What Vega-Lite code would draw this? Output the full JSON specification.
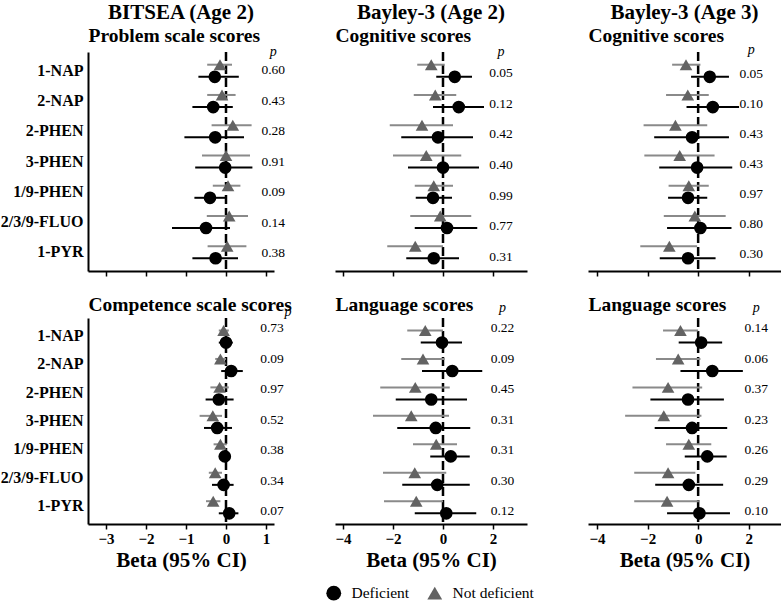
{
  "$schema": "https://vega.github.io/schema/vega-lite/v6.json",
  "background": "white",
  "padding": {"left": 0, "top": 2, "right": 0, "bottom": 0},
  "datasets": {
    "est": [
      {"panel": "P1", "exposure": "1-NAP", "group": "Deficient", "beta": -0.28, "lo": -0.69, "hi": 0.32},
      {"panel": "P1", "exposure": "1-NAP", "group": "Not deficient", "beta": -0.15, "lo": -0.47, "hi": 0.15},
      {"panel": "P1", "exposure": "2-NAP", "group": "Deficient", "beta": -0.32, "lo": -0.84, "hi": 0.17},
      {"panel": "P1", "exposure": "2-NAP", "group": "Not deficient", "beta": -0.1, "lo": -0.47, "hi": 0.24},
      {"panel": "P1", "exposure": "2-PHEN", "group": "Deficient", "beta": -0.27, "lo": -1.04, "hi": 0.45},
      {"panel": "P1", "exposure": "2-PHEN", "group": "Not deficient", "beta": 0.17, "lo": -0.36, "hi": 0.64},
      {"panel": "P1", "exposure": "3-PHEN", "group": "Deficient", "beta": -0.02, "lo": -0.77, "hi": 0.66},
      {"panel": "P1", "exposure": "3-PHEN", "group": "Not deficient", "beta": 0.0, "lo": -0.6, "hi": 0.6},
      {"panel": "P1", "exposure": "1/9-PHEN", "group": "Deficient", "beta": -0.4, "lo": -0.79, "hi": 0.0},
      {"panel": "P1", "exposure": "1/9-PHEN", "group": "Not deficient", "beta": 0.05, "lo": -0.33, "hi": 0.36},
      {"panel": "P1", "exposure": "2/3/9-FLUO", "group": "Deficient", "beta": -0.5, "lo": -1.35, "hi": 0.1},
      {"panel": "P1", "exposure": "2/3/9-FLUO", "group": "Not deficient", "beta": 0.08, "lo": -0.48, "hi": 0.55},
      {"panel": "P1", "exposure": "1-PYR", "group": "Deficient", "beta": -0.26, "lo": -0.84, "hi": 0.3},
      {"panel": "P1", "exposure": "1-PYR", "group": "Not deficient", "beta": 0.03, "lo": -0.46, "hi": 0.51},

      {"panel": "P2", "exposure": "1-NAP", "group": "Deficient", "beta": 0.47, "lo": -0.27, "hi": 1.16},
      {"panel": "P2", "exposure": "1-NAP", "group": "Not deficient", "beta": -0.47, "lo": -1.03, "hi": 0.07},
      {"panel": "P2", "exposure": "2-NAP", "group": "Deficient", "beta": 0.63, "lo": -0.4, "hi": 1.64},
      {"panel": "P2", "exposure": "2-NAP", "group": "Not deficient", "beta": -0.31, "lo": -1.17, "hi": 0.53},
      {"panel": "P2", "exposure": "2-PHEN", "group": "Deficient", "beta": -0.2, "lo": -1.67, "hi": 1.2},
      {"panel": "P2", "exposure": "2-PHEN", "group": "Not deficient", "beta": -0.84, "lo": -2.13, "hi": 0.4},
      {"panel": "P2", "exposure": "3-PHEN", "group": "Deficient", "beta": 0.0, "lo": -1.4, "hi": 1.44},
      {"panel": "P2", "exposure": "3-PHEN", "group": "Not deficient", "beta": -0.67, "lo": -2.0, "hi": 0.73},
      {"panel": "P2", "exposure": "1/9-PHEN", "group": "Deficient", "beta": -0.4, "lo": -1.09, "hi": 0.36},
      {"panel": "P2", "exposure": "1/9-PHEN", "group": "Not deficient", "beta": -0.37, "lo": -1.13, "hi": 0.4},
      {"panel": "P2", "exposure": "2/3/9-FLUO", "group": "Deficient", "beta": 0.16, "lo": -1.13, "hi": 1.37},
      {"panel": "P2", "exposure": "2/3/9-FLUO", "group": "Not deficient", "beta": -0.11, "lo": -1.31, "hi": 1.13},
      {"panel": "P2", "exposure": "1-PYR", "group": "Deficient", "beta": -0.37, "lo": -1.47, "hi": 0.64},
      {"panel": "P2", "exposure": "1-PYR", "group": "Not deficient", "beta": -1.11, "lo": -2.23, "hi": 0.0},

      {"panel": "P3", "exposure": "1-NAP", "group": "Deficient", "beta": 0.46, "lo": -0.28, "hi": 1.22},
      {"panel": "P3", "exposure": "1-NAP", "group": "Not deficient", "beta": -0.48, "lo": -1.03, "hi": 0.09},
      {"panel": "P3", "exposure": "2-NAP", "group": "Deficient", "beta": 0.58, "lo": -0.46, "hi": 1.62},
      {"panel": "P3", "exposure": "2-NAP", "group": "Not deficient", "beta": -0.41, "lo": -1.27, "hi": 0.42},
      {"panel": "P3", "exposure": "2-PHEN", "group": "Deficient", "beta": -0.24, "lo": -1.74, "hi": 1.22},
      {"panel": "P3", "exposure": "2-PHEN", "group": "Not deficient", "beta": -0.9, "lo": -2.16, "hi": 0.36},
      {"panel": "P3", "exposure": "3-PHEN", "group": "Deficient", "beta": -0.04, "lo": -1.54, "hi": 1.35},
      {"panel": "P3", "exposure": "3-PHEN", "group": "Not deficient", "beta": -0.73, "lo": -2.13, "hi": 0.65},
      {"panel": "P3", "exposure": "1/9-PHEN", "group": "Deficient", "beta": -0.4, "lo": -1.19, "hi": 0.36},
      {"panel": "P3", "exposure": "1/9-PHEN", "group": "Not deficient", "beta": -0.37, "lo": -1.17, "hi": 0.42},
      {"panel": "P3", "exposure": "2/3/9-FLUO", "group": "Deficient", "beta": 0.09, "lo": -1.23, "hi": 1.32},
      {"panel": "P3", "exposure": "2/3/9-FLUO", "group": "Not deficient", "beta": -0.13, "lo": -1.36, "hi": 1.09},
      {"panel": "P3", "exposure": "1-PYR", "group": "Deficient", "beta": -0.4, "lo": -1.52, "hi": 0.69},
      {"panel": "P3", "exposure": "1-PYR", "group": "Not deficient", "beta": -1.14, "lo": -2.29, "hi": -0.04},

      {"panel": "P4", "exposure": "1-NAP", "group": "Deficient", "beta": 0.0, "lo": -0.18, "hi": 0.17},
      {"panel": "P4", "exposure": "1-NAP", "group": "Not deficient", "beta": -0.06, "lo": -0.18, "hi": 0.07},
      {"panel": "P4", "exposure": "2-NAP", "group": "Deficient", "beta": 0.13, "lo": -0.12, "hi": 0.42},
      {"panel": "P4", "exposure": "2-NAP", "group": "Not deficient", "beta": -0.14, "lo": -0.27, "hi": 0.0},
      {"panel": "P4", "exposure": "2-PHEN", "group": "Deficient", "beta": -0.18, "lo": -0.51, "hi": 0.19},
      {"panel": "P4", "exposure": "2-PHEN", "group": "Not deficient", "beta": -0.16, "lo": -0.39, "hi": 0.07},
      {"panel": "P4", "exposure": "3-PHEN", "group": "Deficient", "beta": -0.22, "lo": -0.55, "hi": 0.15},
      {"panel": "P4", "exposure": "3-PHEN", "group": "Not deficient", "beta": -0.33, "lo": -0.66, "hi": -0.1},
      {"panel": "P4", "exposure": "1/9-PHEN", "group": "Deficient", "beta": -0.03, "lo": -0.18, "hi": 0.11},
      {"panel": "P4", "exposure": "1/9-PHEN", "group": "Not deficient", "beta": -0.14, "lo": -0.31, "hi": 0.02},
      {"panel": "P4", "exposure": "2/3/9-FLUO", "group": "Deficient", "beta": -0.06, "lo": -0.35, "hi": 0.19},
      {"panel": "P4", "exposure": "2/3/9-FLUO", "group": "Not deficient", "beta": -0.27, "lo": -0.43, "hi": -0.1},
      {"panel": "P4", "exposure": "1-PYR", "group": "Deficient", "beta": 0.08, "lo": -0.18, "hi": 0.31},
      {"panel": "P4", "exposure": "1-PYR", "group": "Not deficient", "beta": -0.32, "lo": -0.5, "hi": -0.14},

      {"panel": "P5", "exposure": "1-NAP", "group": "Deficient", "beta": -0.04, "lo": -0.89, "hi": 0.76},
      {"panel": "P5", "exposure": "1-NAP", "group": "Not deficient", "beta": -0.71, "lo": -1.43, "hi": 0.0},
      {"panel": "P5", "exposure": "2-NAP", "group": "Deficient", "beta": 0.37, "lo": -0.84, "hi": 1.57},
      {"panel": "P5", "exposure": "2-NAP", "group": "Not deficient", "beta": -0.8, "lo": -1.67, "hi": 0.07},
      {"panel": "P5", "exposure": "2-PHEN", "group": "Deficient", "beta": -0.47, "lo": -1.89, "hi": 0.96},
      {"panel": "P5", "exposure": "2-PHEN", "group": "Not deficient", "beta": -1.11, "lo": -2.51, "hi": 0.27},
      {"panel": "P5", "exposure": "3-PHEN", "group": "Deficient", "beta": -0.29, "lo": -1.83, "hi": 1.09},
      {"panel": "P5", "exposure": "3-PHEN", "group": "Not deficient", "beta": -1.27, "lo": -2.8, "hi": 0.24},
      {"panel": "P5", "exposure": "1/9-PHEN", "group": "Deficient", "beta": 0.31, "lo": -0.51, "hi": 1.07},
      {"panel": "P5", "exposure": "1/9-PHEN", "group": "Not deficient", "beta": -0.27, "lo": -1.2, "hi": 0.56},
      {"panel": "P5", "exposure": "2/3/9-FLUO", "group": "Deficient", "beta": -0.23, "lo": -1.63, "hi": 1.07},
      {"panel": "P5", "exposure": "2/3/9-FLUO", "group": "Not deficient", "beta": -1.13, "lo": -2.4, "hi": 0.13},
      {"panel": "P5", "exposure": "1-PYR", "group": "Deficient", "beta": 0.13, "lo": -1.13, "hi": 1.33},
      {"panel": "P5", "exposure": "1-PYR", "group": "Not deficient", "beta": -1.07, "lo": -2.36, "hi": 0.0},

      {"panel": "P6", "exposure": "1-NAP", "group": "Deficient", "beta": 0.12, "lo": -0.77, "hi": 0.95},
      {"panel": "P6", "exposure": "1-NAP", "group": "Not deficient", "beta": -0.7, "lo": -1.39, "hi": 0.0},
      {"panel": "P6", "exposure": "2-NAP", "group": "Deficient", "beta": 0.56, "lo": -0.7, "hi": 1.77},
      {"panel": "P6", "exposure": "2-NAP", "group": "Not deficient", "beta": -0.79, "lo": -1.67, "hi": 0.09},
      {"panel": "P6", "exposure": "2-PHEN", "group": "Deficient", "beta": -0.4, "lo": -1.89, "hi": 1.02},
      {"panel": "P6", "exposure": "2-PHEN", "group": "Not deficient", "beta": -1.19, "lo": -2.6, "hi": 0.16},
      {"panel": "P6", "exposure": "3-PHEN", "group": "Deficient", "beta": -0.24, "lo": -1.72, "hi": 1.15},
      {"panel": "P6", "exposure": "3-PHEN", "group": "Not deficient", "beta": -1.36, "lo": -2.89, "hi": 0.13},
      {"panel": "P6", "exposure": "1/9-PHEN", "group": "Deficient", "beta": 0.36, "lo": -0.53, "hi": 1.13},
      {"panel": "P6", "exposure": "1/9-PHEN", "group": "Not deficient", "beta": -0.37, "lo": -1.27, "hi": 0.52},
      {"panel": "P6", "exposure": "2/3/9-FLUO", "group": "Deficient", "beta": -0.37, "lo": -1.7, "hi": 0.99},
      {"panel": "P6", "exposure": "2/3/9-FLUO", "group": "Not deficient", "beta": -1.19, "lo": -2.53, "hi": -0.11},
      {"panel": "P6", "exposure": "1-PYR", "group": "Deficient", "beta": 0.05, "lo": -1.23, "hi": 1.26},
      {"panel": "P6", "exposure": "1-PYR", "group": "Not deficient", "beta": -1.23, "lo": -2.53, "hi": 0.03}
    ],
    "pv": [
      {"panel": "P1", "exposure": "1-NAP", "p": "0.60"}, {"panel": "P1", "exposure": "2-NAP", "p": "0.43"}, {"panel": "P1", "exposure": "2-PHEN", "p": "0.28"}, {"panel": "P1", "exposure": "3-PHEN", "p": "0.91"}, {"panel": "P1", "exposure": "1/9-PHEN", "p": "0.09"}, {"panel": "P1", "exposure": "2/3/9-FLUO", "p": "0.14"}, {"panel": "P1", "exposure": "1-PYR", "p": "0.38"},
      {"panel": "P2", "exposure": "1-NAP", "p": "0.05"}, {"panel": "P2", "exposure": "2-NAP", "p": "0.12"}, {"panel": "P2", "exposure": "2-PHEN", "p": "0.42"}, {"panel": "P2", "exposure": "3-PHEN", "p": "0.40"}, {"panel": "P2", "exposure": "1/9-PHEN", "p": "0.99"}, {"panel": "P2", "exposure": "2/3/9-FLUO", "p": "0.77"}, {"panel": "P2", "exposure": "1-PYR", "p": "0.31"},
      {"panel": "P3", "exposure": "1-NAP", "p": "0.05"}, {"panel": "P3", "exposure": "2-NAP", "p": "0.10"}, {"panel": "P3", "exposure": "2-PHEN", "p": "0.43"}, {"panel": "P3", "exposure": "3-PHEN", "p": "0.43"}, {"panel": "P3", "exposure": "1/9-PHEN", "p": "0.97"}, {"panel": "P3", "exposure": "2/3/9-FLUO", "p": "0.80"}, {"panel": "P3", "exposure": "1-PYR", "p": "0.30"},
      {"panel": "P4", "exposure": "1-NAP", "p": "0.73"}, {"panel": "P4", "exposure": "2-NAP", "p": "0.09"}, {"panel": "P4", "exposure": "2-PHEN", "p": "0.97"}, {"panel": "P4", "exposure": "3-PHEN", "p": "0.52"}, {"panel": "P4", "exposure": "1/9-PHEN", "p": "0.38"}, {"panel": "P4", "exposure": "2/3/9-FLUO", "p": "0.34"}, {"panel": "P4", "exposure": "1-PYR", "p": "0.07"},
      {"panel": "P5", "exposure": "1-NAP", "p": "0.22"}, {"panel": "P5", "exposure": "2-NAP", "p": "0.09"}, {"panel": "P5", "exposure": "2-PHEN", "p": "0.45"}, {"panel": "P5", "exposure": "3-PHEN", "p": "0.31"}, {"panel": "P5", "exposure": "1/9-PHEN", "p": "0.31"}, {"panel": "P5", "exposure": "2/3/9-FLUO", "p": "0.30"}, {"panel": "P5", "exposure": "1-PYR", "p": "0.12"},
      {"panel": "P6", "exposure": "1-NAP", "p": "0.14"}, {"panel": "P6", "exposure": "2-NAP", "p": "0.06"}, {"panel": "P6", "exposure": "2-PHEN", "p": "0.37"}, {"panel": "P6", "exposure": "3-PHEN", "p": "0.23"}, {"panel": "P6", "exposure": "1/9-PHEN", "p": "0.26"}, {"panel": "P6", "exposure": "2/3/9-FLUO", "p": "0.29"}, {"panel": "P6", "exposure": "1-PYR", "p": "0.10"}
    ]
  },
  "config": {
    "font": "Liberation Serif",
    "view": {"stroke": null},
    "title": {"font": "Liberation Serif", "fontSize": 21, "fontWeight": "bold", "color": "black", "anchor": "middle", "frame": "group", "offset": 2},
    "axis": {"grid": false, "domainColor": "black", "tickColor": "black", "labelColor": "black", "titleColor": "black", "labelFont": "Liberation Serif", "titleFont": "Liberation Serif", "labelFontWeight": "bold", "titleFontWeight": "bold"},
    "axisX": {"domainWidth": 2, "tickWidth": 1.5, "tickSize": 5, "labelFontSize": 15, "labelPadding": 2, "titleFontSize": 21, "titlePadding": 3, "labelFlush": false},
    "axisY": {"domainWidth": 2, "ticks": false, "labelFontSize": 16, "labelPadding": 5, "titleFontSize": 19.5, "titleAngle": 0, "titleX": 0, "titleY": -11, "titleAlign": "left", "titleBaseline": "alphabetic"},
    "legend": {"labelFont": "Liberation Serif", "labelFontSize": 15.5, "labelColor": "black", "symbolSize": 220, "columnPadding": 17, "labelOffset": 10, "symbolStrokeWidth": 0}
  },
  "spacing": 17,
  "vconcat": [
    {
      "hconcat": [
        {
          "width": 186, "height": 219,
          "title": "BITSEA (Age 2)",
          "data": {"name": "est"},
          "layer": [
            {"transform": [{"filter": "datum.panel == 'P1' && datum.exposure == '1-NAP' && datum.group == 'Deficient'"}],
             "mark": {"type": "rule", "strokeDash": [9, 4], "strokeWidth": 2.5, "color": "black"},
             "encoding": {"x": {"datum": 0, "type": "quantitative", "title": null, "scale": {"domain": [-3.45, 1.2], "nice": false, "zero": false}, "axis": {"values": [-3, -2, -1, 0, 1], "labels": false}}}},
            {"transform": [{"filter": "datum.panel == 'P1'"}],
             "encoding": {
               "y": {"field": "exposure", "type": "nominal", "scale": {"type": "band", "domain": ["1-NAP", "2-NAP", "2-PHEN", "3-PHEN", "1/9-PHEN", "2/3/9-FLUO", "1-PYR"], "paddingOuter": 0.12, "paddingInner": 0}, "axis": {"title": "Problem scale scores"}},
               "yOffset": {"field": "group", "type": "nominal", "scale": {"domain": ["Not deficient", "Deficient"], "paddingOuter": 0.25, "paddingInner": 0}}},
             "layer": [
               {"mark": {"type": "rule", "strokeWidth": 2}, "encoding": {"x": {"field": "lo", "type": "quantitative", "title": null}, "x2": {"field": "hi"}, "stroke": {"field": "group", "type": "nominal", "scale": {"domain": ["Deficient", "Not deficient"], "range": ["#000000", "#8a8a8a"]}}}},
               {"mark": {"type": "point", "filled": true, "size": 160, "opacity": 1}, "encoding": {"x": {"field": "beta", "type": "quantitative", "title": null}, "color": {"field": "group", "type": "nominal", "scale": {"domain": ["Deficient", "Not deficient"], "range": ["#000000", "#636363"]}, "legend": {"title": null, "orient": "none", "direction": "horizontal", "legendX": 238, "legendY": 533}}, "shape": {"field": "group", "type": "nominal", "scale": {"domain": ["Deficient", "Not deficient"], "range": ["circle", "triangle-up"]}, "legend": {"title": null, "orient": "none", "direction": "horizontal", "legendX": 238, "legendY": 533}}}}
             ]},
            {"data": {"name": "pv"}, "transform": [{"filter": "datum.panel == 'P1'"}],
             "encoding": {"x": {"datum": 1.18, "type": "quantitative", "title": null}, "y": {"field": "exposure", "type": "nominal", "scale": {"type": "point", "padding": 0, "domain": ["1-NAP", "2-NAP", "2-PHEN", "3-PHEN", "1/9-PHEN", "2/3/9-FLUO", "1-PYR"], "range": [18, 201]}, "axis": null}},
             "layer": [
               {"mark": {"type": "text", "fontSize": 13.5, "align": "center", "baseline": "middle", "color": "black"}, "encoding": {"text": {"field": "p"}}},
               {"transform": [{"filter": "datum.exposure == '1-NAP'"}], "mark": {"type": "text", "fontSize": 14, "fontStyle": "italic", "align": "center", "baseline": "middle", "dy": -18, "color": "black"}, "encoding": {"text": {"value": "p"}}}
             ]}
          ],
          "resolve": {"scale": {"y": "independent"}}
        },
        {
          "width": 192, "height": 219,
          "title": "Bayley-3 (Age 2)",
          "data": {"name": "est"},
          "layer": [
            {"transform": [{"filter": "datum.panel == 'P2' && datum.exposure == '1-NAP' && datum.group == 'Deficient'"}],
             "mark": {"type": "rule", "strokeDash": [9, 4], "strokeWidth": 2.5, "color": "black"},
             "encoding": {"x": {"datum": 0, "type": "quantitative", "title": null, "scale": {"domain": [-4.32, 3.36], "nice": false, "zero": false}, "axis": {"values": [-4, -2, 0, 2], "labels": false}}}},
            {"transform": [{"filter": "datum.panel == 'P2'"}],
             "encoding": {
               "y": {"field": "exposure", "type": "nominal", "scale": {"type": "band", "domain": ["1-NAP", "2-NAP", "2-PHEN", "3-PHEN", "1/9-PHEN", "2/3/9-FLUO", "1-PYR"], "paddingOuter": 0.12, "paddingInner": 0}, "axis": {"title": "Cognitive scores", "domain": false, "labels": false}},
               "yOffset": {"field": "group", "type": "nominal", "scale": {"domain": ["Not deficient", "Deficient"], "paddingOuter": 0.25, "paddingInner": 0}}},
             "layer": [
               {"mark": {"type": "rule", "strokeWidth": 2}, "encoding": {"x": {"field": "lo", "type": "quantitative", "title": null}, "x2": {"field": "hi"}, "stroke": {"field": "group", "type": "nominal", "scale": {"domain": ["Deficient", "Not deficient"], "range": ["#000000", "#8a8a8a"]}}}},
               {"mark": {"type": "point", "filled": true, "size": 160, "opacity": 1}, "encoding": {"x": {"field": "beta", "type": "quantitative", "title": null}, "color": {"field": "group", "type": "nominal", "scale": {"domain": ["Deficient", "Not deficient"], "range": ["#000000", "#636363"]}, "legend": {"title": null, "orient": "none", "direction": "horizontal", "legendX": 238, "legendY": 533}}, "shape": {"field": "group", "type": "nominal", "scale": {"domain": ["Deficient", "Not deficient"], "range": ["circle", "triangle-up"]}, "legend": {"title": null, "orient": "none", "direction": "horizontal", "legendX": 238, "legendY": 533}}}}
             ]},
            {"data": {"name": "pv"}, "transform": [{"filter": "datum.panel == 'P2'"}],
             "encoding": {"x": {"datum": 2.32, "type": "quantitative", "title": null}, "y": {"field": "exposure", "type": "nominal", "scale": {"type": "point", "padding": 0, "domain": ["1-NAP", "2-NAP", "2-PHEN", "3-PHEN", "1/9-PHEN", "2/3/9-FLUO", "1-PYR"], "range": [21, 205]}, "axis": null}},
             "layer": [
               {"mark": {"type": "text", "fontSize": 13.5, "align": "center", "baseline": "middle", "color": "black"}, "encoding": {"text": {"field": "p"}}},
               {"transform": [{"filter": "datum.exposure == '1-NAP'"}], "mark": {"type": "text", "fontSize": 14, "fontStyle": "italic", "align": "center", "baseline": "middle", "dy": -21, "color": "black"}, "encoding": {"text": {"value": "p"}}}
             ]}
          ],
          "resolve": {"scale": {"y": "independent"}}
        },
        {
          "width": 193, "height": 219,
          "title": "Bayley-3 (Age 3)",
          "data": {"name": "est"},
          "layer": [
            {"transform": [{"filter": "datum.panel == 'P3' && datum.exposure == '1-NAP' && datum.group == 'Deficient'"}],
             "mark": {"type": "rule", "strokeDash": [9, 4], "strokeWidth": 2.5, "color": "black"},
             "encoding": {"x": {"datum": 0, "type": "quantitative", "title": null, "scale": {"domain": [-4.36, 3.28], "nice": false, "zero": false}, "axis": {"values": [-4, -2, 0, 2], "labels": false}}}},
            {"transform": [{"filter": "datum.panel == 'P3'"}],
             "encoding": {
               "y": {"field": "exposure", "type": "nominal", "scale": {"type": "band", "domain": ["1-NAP", "2-NAP", "2-PHEN", "3-PHEN", "1/9-PHEN", "2/3/9-FLUO", "1-PYR"], "paddingOuter": 0.12, "paddingInner": 0}, "axis": {"title": "Cognitive scores", "domain": false, "labels": false}},
               "yOffset": {"field": "group", "type": "nominal", "scale": {"domain": ["Not deficient", "Deficient"], "paddingOuter": 0.25, "paddingInner": 0}}},
             "layer": [
               {"mark": {"type": "rule", "strokeWidth": 2}, "encoding": {"x": {"field": "lo", "type": "quantitative", "title": null}, "x2": {"field": "hi"}, "stroke": {"field": "group", "type": "nominal", "scale": {"domain": ["Deficient", "Not deficient"], "range": ["#000000", "#8a8a8a"]}}}},
               {"mark": {"type": "point", "filled": true, "size": 160, "opacity": 1}, "encoding": {"x": {"field": "beta", "type": "quantitative", "title": null}, "color": {"field": "group", "type": "nominal", "scale": {"domain": ["Deficient", "Not deficient"], "range": ["#000000", "#636363"]}, "legend": {"title": null, "orient": "none", "direction": "horizontal", "legendX": 238, "legendY": 533}}, "shape": {"field": "group", "type": "nominal", "scale": {"domain": ["Deficient", "Not deficient"], "range": ["circle", "triangle-up"]}, "legend": {"title": null, "orient": "none", "direction": "horizontal", "legendX": 238, "legendY": 533}}}}
             ]},
            {"data": {"name": "pv"}, "transform": [{"filter": "datum.panel == 'P3'"}],
             "encoding": {"x": {"datum": 2.1, "type": "quantitative", "title": null}, "y": {"field": "exposure", "type": "nominal", "scale": {"type": "point", "padding": 0, "domain": ["1-NAP", "2-NAP", "2-PHEN", "3-PHEN", "1/9-PHEN", "2/3/9-FLUO", "1-PYR"], "range": [22, 202]}, "axis": null}},
             "layer": [
               {"mark": {"type": "text", "fontSize": 13.5, "align": "center", "baseline": "middle", "color": "black"}, "encoding": {"text": {"field": "p"}}},
               {"transform": [{"filter": "datum.exposure == '1-NAP'"}], "mark": {"type": "text", "fontSize": 14, "fontStyle": "italic", "align": "center", "baseline": "middle", "dy": -24, "color": "black"}, "encoding": {"text": {"value": "p"}}}
             ]}
          ],
          "resolve": {"scale": {"y": "independent"}}
        }
      ],
      "spacing": 61,
      "bounds": "flush"
    },
    {
      "hconcat": [
        {
          "width": 186, "height": 206,
          "data": {"name": "est"},
          "layer": [
            {"transform": [{"filter": "datum.panel == 'P4' && datum.exposure == '1-NAP' && datum.group == 'Deficient'"}],
             "mark": {"type": "rule", "strokeDash": [9, 4], "strokeWidth": 2.5, "color": "black"},
             "encoding": {"x": {"datum": 0, "type": "quantitative", "title": "Beta (95% CI)", "scale": {"domain": [-3.45, 1.2], "nice": false, "zero": false}, "axis": {"values": [-3, -2, -1, 0, 1]}}}},
            {"transform": [{"filter": "datum.panel == 'P4'"}],
             "encoding": {
               "y": {"field": "exposure", "type": "nominal", "scale": {"type": "band", "domain": ["1-NAP", "2-NAP", "2-PHEN", "3-PHEN", "1/9-PHEN", "2/3/9-FLUO", "1-PYR"], "paddingOuter": 0.12, "paddingInner": 0}, "axis": {"title": "Competence scale scores", "titleY": -8}},
               "yOffset": {"field": "group", "type": "nominal", "scale": {"domain": ["Not deficient", "Deficient"], "paddingOuter": 0.3, "paddingInner": 0}}},
             "layer": [
               {"mark": {"type": "rule", "strokeWidth": 2}, "encoding": {"x": {"field": "lo", "type": "quantitative", "title": "Beta (95% CI)"}, "x2": {"field": "hi"}, "stroke": {"field": "group", "type": "nominal", "scale": {"domain": ["Deficient", "Not deficient"], "range": ["#000000", "#8a8a8a"]}}}},
               {"mark": {"type": "point", "filled": true, "size": 160, "opacity": 1}, "encoding": {"x": {"field": "beta", "type": "quantitative", "title": "Beta (95% CI)"}, "color": {"field": "group", "type": "nominal", "scale": {"domain": ["Deficient", "Not deficient"], "range": ["#000000", "#636363"]}, "legend": {"title": null, "orient": "none", "direction": "horizontal", "legendX": 238, "legendY": 533}}, "shape": {"field": "group", "type": "nominal", "scale": {"domain": ["Deficient", "Not deficient"], "range": ["circle", "triangle-up"]}, "legend": {"title": null, "orient": "none", "direction": "horizontal", "legendX": 238, "legendY": 533}}}}
             ]},
            {"data": {"name": "pv"}, "transform": [{"filter": "datum.panel == 'P4'"}],
             "encoding": {"x": {"datum": 1.15, "type": "quantitative", "title": "Beta (95% CI)"}, "y": {"field": "exposure", "type": "nominal", "scale": {"type": "point", "padding": 0, "domain": ["1-NAP", "2-NAP", "2-PHEN", "3-PHEN", "1/9-PHEN", "2/3/9-FLUO", "1-PYR"], "range": [10, 193]}, "axis": null}},
             "layer": [
               {"mark": {"type": "text", "fontSize": 13.5, "align": "center", "baseline": "middle", "color": "black"}, "encoding": {"text": {"field": "p"}}},
               {"transform": [{"filter": "datum.exposure == '1-NAP'"}], "mark": {"type": "text", "fontSize": 14, "fontStyle": "italic", "align": "center", "baseline": "middle", "dx": 16, "dy": -16, "color": "black"}, "encoding": {"text": {"value": "p"}}}
             ]}
          ],
          "resolve": {"scale": {"y": "independent"}}
        },
        {
          "width": 192, "height": 206,
          "data": {"name": "est"},
          "layer": [
            {"transform": [{"filter": "datum.panel == 'P5' && datum.exposure == '1-NAP' && datum.group == 'Deficient'"}],
             "mark": {"type": "rule", "strokeDash": [9, 4], "strokeWidth": 2.5, "color": "black"},
             "encoding": {"x": {"datum": 0, "type": "quantitative", "title": "Beta (95% CI)", "scale": {"domain": [-4.32, 3.36], "nice": false, "zero": false}, "axis": {"values": [-4, -2, 0, 2]}}}},
            {"transform": [{"filter": "datum.panel == 'P5'"}],
             "encoding": {
               "y": {"field": "exposure", "type": "nominal", "scale": {"type": "band", "domain": ["1-NAP", "2-NAP", "2-PHEN", "3-PHEN", "1/9-PHEN", "2/3/9-FLUO", "1-PYR"], "paddingOuter": 0.12, "paddingInner": 0}, "axis": {"title": "Language scores", "titleY": -8, "domain": false, "labels": false}},
               "yOffset": {"field": "group", "type": "nominal", "scale": {"domain": ["Not deficient", "Deficient"], "paddingOuter": 0.3, "paddingInner": 0}}},
             "layer": [
               {"mark": {"type": "rule", "strokeWidth": 2}, "encoding": {"x": {"field": "lo", "type": "quantitative", "title": "Beta (95% CI)"}, "x2": {"field": "hi"}, "stroke": {"field": "group", "type": "nominal", "scale": {"domain": ["Deficient", "Not deficient"], "range": ["#000000", "#8a8a8a"]}}}},
               {"mark": {"type": "point", "filled": true, "size": 160, "opacity": 1}, "encoding": {"x": {"field": "beta", "type": "quantitative", "title": "Beta (95% CI)"}, "color": {"field": "group", "type": "nominal", "scale": {"domain": ["Deficient", "Not deficient"], "range": ["#000000", "#636363"]}, "legend": {"title": null, "orient": "none", "direction": "horizontal", "legendX": 238, "legendY": 533}}, "shape": {"field": "group", "type": "nominal", "scale": {"domain": ["Deficient", "Not deficient"], "range": ["circle", "triangle-up"]}, "legend": {"title": null, "orient": "none", "direction": "horizontal", "legendX": 238, "legendY": 533}}}}
             ]},
            {"data": {"name": "pv"}, "transform": [{"filter": "datum.panel == 'P5'"}],
             "encoding": {"x": {"datum": 2.38, "type": "quantitative", "title": "Beta (95% CI)"}, "y": {"field": "exposure", "type": "nominal", "scale": {"type": "point", "padding": 0, "domain": ["1-NAP", "2-NAP", "2-PHEN", "3-PHEN", "1/9-PHEN", "2/3/9-FLUO", "1-PYR"], "range": [10, 193]}, "axis": null}},
             "layer": [
               {"mark": {"type": "text", "fontSize": 13.5, "align": "center", "baseline": "middle", "color": "black"}, "encoding": {"text": {"field": "p"}}},
               {"transform": [{"filter": "datum.exposure == '1-NAP'"}], "mark": {"type": "text", "fontSize": 14, "fontStyle": "italic", "align": "center", "baseline": "middle", "dy": -20, "color": "black"}, "encoding": {"text": {"value": "p"}}}
             ]}
          ],
          "resolve": {"scale": {"y": "independent"}}
        },
        {
          "width": 193, "height": 206,
          "data": {"name": "est"},
          "layer": [
            {"transform": [{"filter": "datum.panel == 'P6' && datum.exposure == '1-NAP' && datum.group == 'Deficient'"}],
             "mark": {"type": "rule", "strokeDash": [9, 4], "strokeWidth": 2.5, "color": "black"},
             "encoding": {"x": {"datum": 0, "type": "quantitative", "title": "Beta (95% CI)", "scale": {"domain": [-4.36, 3.28], "nice": false, "zero": false}, "axis": {"values": [-4, -2, 0, 2]}}}},
            {"transform": [{"filter": "datum.panel == 'P6'"}],
             "encoding": {
               "y": {"field": "exposure", "type": "nominal", "scale": {"type": "band", "domain": ["1-NAP", "2-NAP", "2-PHEN", "3-PHEN", "1/9-PHEN", "2/3/9-FLUO", "1-PYR"], "paddingOuter": 0.12, "paddingInner": 0}, "axis": {"title": "Language scores", "titleY": -8, "domain": false, "labels": false}},
               "yOffset": {"field": "group", "type": "nominal", "scale": {"domain": ["Not deficient", "Deficient"], "paddingOuter": 0.3, "paddingInner": 0}}},
             "layer": [
               {"mark": {"type": "rule", "strokeWidth": 2}, "encoding": {"x": {"field": "lo", "type": "quantitative", "title": "Beta (95% CI)"}, "x2": {"field": "hi"}, "stroke": {"field": "group", "type": "nominal", "scale": {"domain": ["Deficient", "Not deficient"], "range": ["#000000", "#8a8a8a"]}}}},
               {"mark": {"type": "point", "filled": true, "size": 160, "opacity": 1}, "encoding": {"x": {"field": "beta", "type": "quantitative", "title": "Beta (95% CI)"}, "color": {"field": "group", "type": "nominal", "scale": {"domain": ["Deficient", "Not deficient"], "range": ["#000000", "#636363"]}, "legend": {"title": null, "orient": "none", "direction": "horizontal", "legendX": 238, "legendY": 533}}, "shape": {"field": "group", "type": "nominal", "scale": {"domain": ["Deficient", "Not deficient"], "range": ["circle", "triangle-up"]}, "legend": {"title": null, "orient": "none", "direction": "horizontal", "legendX": 238, "legendY": 533}}}}
             ]},
            {"data": {"name": "pv"}, "transform": [{"filter": "datum.panel == 'P6'"}],
             "encoding": {"x": {"datum": 2.3, "type": "quantitative", "title": "Beta (95% CI)"}, "y": {"field": "exposure", "type": "nominal", "scale": {"type": "point", "padding": 0, "domain": ["1-NAP", "2-NAP", "2-PHEN", "3-PHEN", "1/9-PHEN", "2/3/9-FLUO", "1-PYR"], "range": [10, 193]}, "axis": null}},
             "layer": [
               {"mark": {"type": "text", "fontSize": 13.5, "align": "center", "baseline": "middle", "color": "black"}, "encoding": {"text": {"field": "p"}}},
               {"transform": [{"filter": "datum.exposure == '1-NAP'"}], "mark": {"type": "text", "fontSize": 14, "fontStyle": "italic", "align": "center", "baseline": "middle", "dy": -20, "color": "black"}, "encoding": {"text": {"value": "p"}}}
             ]}
          ],
          "resolve": {"scale": {"y": "independent"}}
        }
      ],
      "spacing": 61,
      "bounds": "flush"
    }
  ]
}
